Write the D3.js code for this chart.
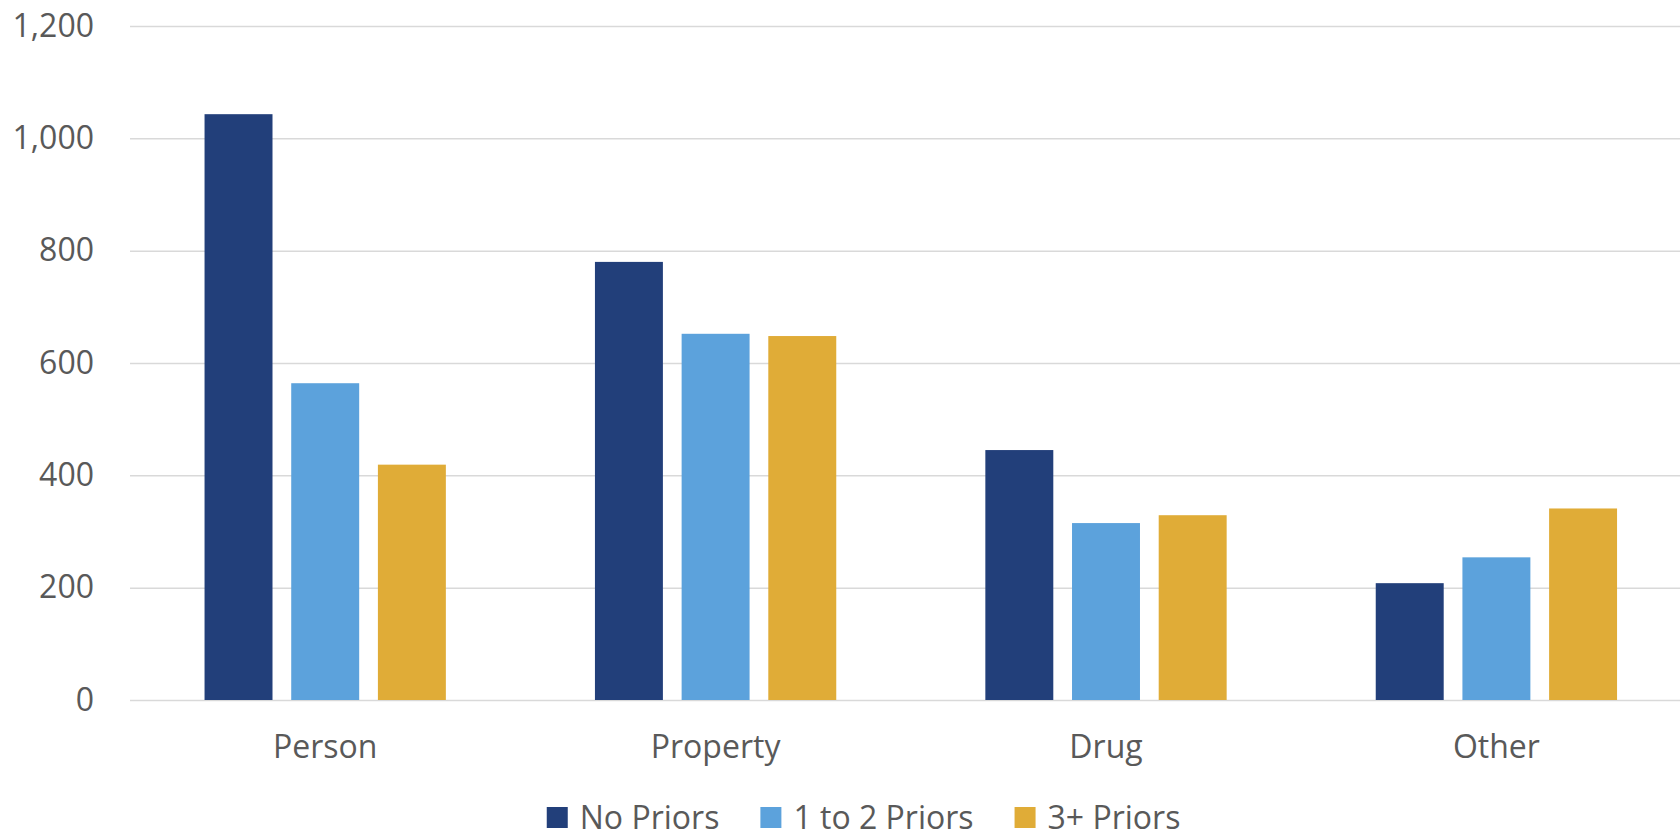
<!DOCTYPE html>
<html>
<head>
<meta charset="utf-8">
<script src="https://cdn.jsdelivr.net/npm/d3@7"></script>
<style>
  body { margin: 0; background: #fff; }
  text { font-family: "Open Sans", sans-serif; fill: #595959; }
</style>
</head>
<body>
<div id="canvas"></div>
<script>
var width = 1680;
var height = 833;

// chart data
var categories = ["Person", "Property", "Drug", "Other"];
var series = ["No Priors", "1 to 2 Priors", "3+ Priors"];
var noPriors = [1043, 780, 445, 208];
var oneToTwo = [564, 652, 315, 254];
var threePlus = [419, 648, 329, 341];
var yTicks = [0, 200, 400, 600, 800, 1000, 1200];
var colors = ["#223F7A", "#5CA2DC", "#E0AC37"];

var values = [noPriors, oneToTwo, threePlus];

var svg = d3.select("#canvas").append("svg")
      .attr("width", width)
      .attr("height", height);

var x = d3.scaleBand()
    .domain(categories)
    .range([130, 1691.6])
    .padding(0);

var x1 = d3.scaleBand()
    .domain(series)
    .range([0, x.bandwidth()])
    .paddingInner(0.216)
    .paddingOuter(0.86);

var y = d3.scaleLinear()
    .domain([0, 1200])
    .range([700, 26]);

var color = d3.scaleOrdinal().domain(series).range(colors);

// gridlines + y labels
var yAxis = svg.append("g")
    .attr("transform", "translate(130,0)")
    .call(d3.axisLeft(y)
      .tickValues(yTicks)
      .tickSize(-(width - 130))
      .tickPadding(36)
      .tickFormat(d3.format(",")));
yAxis.select(".domain").remove();
yAxis.selectAll("line").attr("stroke", "#d9d9d9").attr("stroke-width", 1.5);
yAxis.selectAll("text")
    .style("font-size", "32px")
    .attr("fill", "#595959");

// bars
var groups = svg.selectAll("g.cat")
    .data(categories)
    .enter().append("g")
    .attr("class", "cat")
    .attr("transform", d => "translate(" + x(d) + ",0)");

groups.selectAll("rect")
    .data((c, i) => series.map((s, j) => ({ s: s, v: values[j][i] })))
    .enter().append("rect")
    .attr("x", d => x1(d.s))
    .attr("width", x1.bandwidth())
    .attr("y", d => y(d.v))
    .attr("height", d => y(0) - y(d.v))
    .attr("fill", d => color(d.s));

// category labels
var xAxis = svg.append("g")
    .attr("transform", "translate(0,700)")
    .call(d3.axisBottom(x).tickSize(0).tickPadding(35));
xAxis.select(".domain").remove();
xAxis.selectAll("text")
    .style("font-size", "32px")
    .attr("fill", "#595959");

// legend
var legend = svg.append("g");
var item = legend.selectAll("g")
    .data(series)
    .enter().append("g");
item.append("rect")
    .attr("width", 21)
    .attr("height", 21)
    .attr("y", 807)
    .attr("fill", d => color(d));
item.append("text")
    .attr("x", 33)
    .attr("y", 829)
    .style("font-size", "32px")
    .text(d => d);

var pos = 0;
var offsets = [];
item.each(function() {
  offsets.push(pos);
  var w = 33 + this.querySelector("text").getComputedTextLength();
  pos += w + 41;
});
var total = pos - 41;
var start = 863.6 - total / 2;
item.attr("transform", (d, i) => "translate(" + (start + offsets[i]) + ",0)");
</script>
</body>
</html>
